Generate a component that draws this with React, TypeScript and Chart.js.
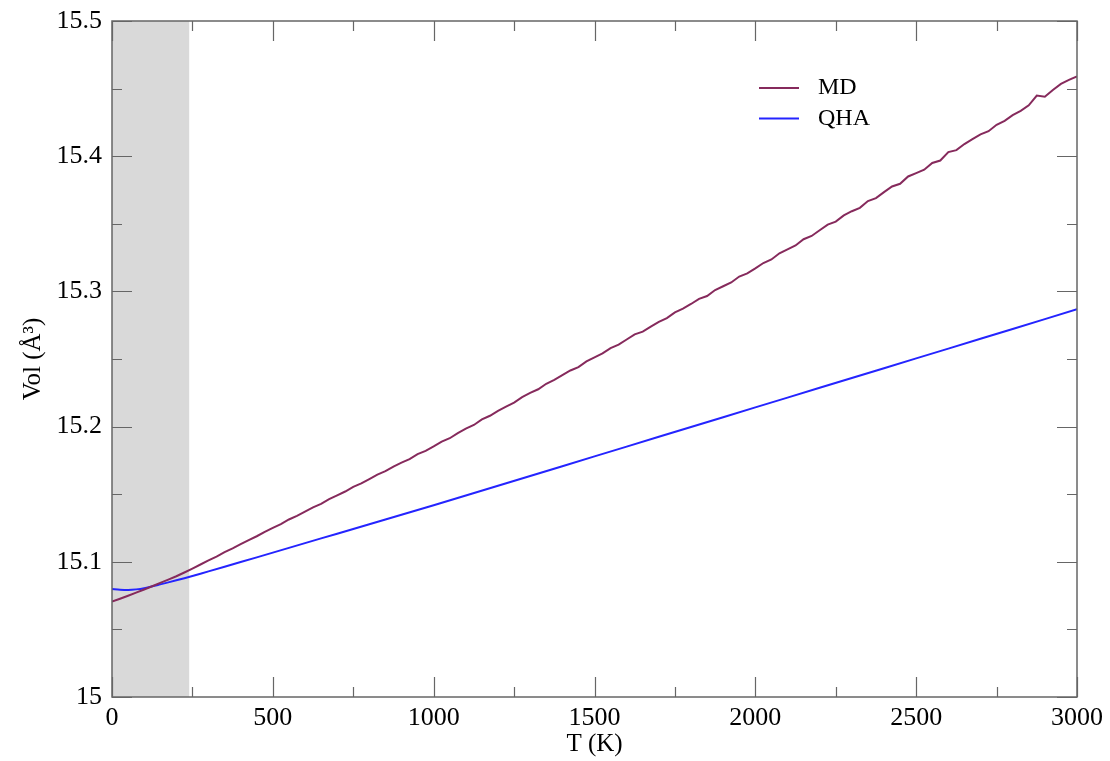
import React, { useEffect, useRef } from "react";
import { Chart, registerables } from "chart.js";

Chart.register(...registerables);

// ---- data ----
const MD_T: number[] = [
  0, 25, 50, 75, 100, 125, 150, 175, 200, 225, 250, 275, 300, 325, 350, 375, 400, 425, 450, 475,
  500, 525, 550, 575, 600, 625, 650, 675, 700, 725, 750, 775, 800, 825, 850, 875, 900, 925, 950, 975,
  1000, 1025, 1050, 1075, 1100, 1125, 1150, 1175, 1200, 1225, 1250, 1275, 1300, 1325, 1350, 1375, 1400, 1425, 1450, 1475,
  1500, 1525, 1550, 1575, 1600, 1625, 1650, 1675, 1700, 1725, 1750, 1775, 1800, 1825, 1850, 1875, 1900, 1925, 1950, 1975,
  2000, 2025, 2050, 2075, 2100, 2125, 2150, 2175, 2200, 2225, 2250, 2275, 2300, 2325, 2350, 2375, 2400, 2425, 2450, 2475,
  2500, 2525, 2550, 2575, 2600, 2625, 2650, 2675, 2700, 2725, 2750, 2775, 2800, 2825, 2850, 2875, 2900, 2925, 2950, 2975,
  3000,
];
const MD_VOL: number[] = [
  15.0705, 15.0727, 15.0749, 15.0772, 15.0795, 15.0819, 15.0844, 15.0868, 15.0893, 15.0921,
  15.0950, 15.0980, 15.1010, 15.1039, 15.1071, 15.1099, 15.1130, 15.1161, 15.1189, 15.1222,
  15.1251, 15.1279, 15.1313, 15.1340, 15.1371, 15.1403, 15.1429, 15.1463, 15.1492, 15.1520,
  15.1554, 15.1580, 15.1612, 15.1645, 15.1670, 15.1704, 15.1733, 15.1760, 15.1796, 15.1821,
  15.1853, 15.1889, 15.1914, 15.1952, 15.1985, 15.2012, 15.2053, 15.2080, 15.2117, 15.2148,
  15.2178, 15.2218, 15.2249, 15.2276, 15.2317, 15.2346, 15.2380, 15.2415, 15.2440, 15.2482,
  15.2512, 15.2541, 15.2580, 15.2606, 15.2644, 15.2682, 15.2702, 15.2740, 15.2775, 15.2803,
  15.2845, 15.2872, 15.2907, 15.2945, 15.2966, 15.3010, 15.3038, 15.3066, 15.3110, 15.3133,
  15.3170, 15.3210, 15.3236, 15.3282, 15.3311, 15.3340, 15.3386, 15.3410, 15.3452, 15.3494,
  15.3516, 15.3562, 15.3593, 15.3618, 15.3668, 15.3690, 15.3734, 15.3776, 15.3796, 15.3850,
  15.3875, 15.3900, 15.3950, 15.3968, 15.4030, 15.4045, 15.4090, 15.4126, 15.4161, 15.4185,
  15.4232, 15.4262, 15.4304, 15.4335, 15.4376, 15.4448, 15.4440, 15.4490, 15.4535, 15.4565,
  15.4590,
];

const QHA_T: number[] = [
  0, 25, 50, 75, 100, 150, 200, 250, 300, 400, 500, 600, 700, 800, 900, 1000,
  1200, 1400, 1600, 1800, 2000, 2200, 2400, 2600, 2800, 3000,
];
const QHA_VOL: number[] = [
  15.0799, 15.0794, 15.0792, 15.0796, 15.0805, 15.0833, 15.0863, 15.0895, 15.0929, 15.0998,
  15.1068, 15.1138, 15.1208, 15.1278, 15.1348, 15.1418, 15.1562, 15.1707, 15.1852, 15.1997,
  15.2142, 15.2287, 15.2432, 15.2577, 15.2722, 15.2868,
];

const SERIES_NAMES: string[] = ["MD", "QHA"];
const SERIES_COLORS: string[] = ["#862a5c", "#2424ff"];

const SHADE_RANGE: number[] = [0, 240];

const X_MAJOR: number[] = [0, 500, 1000, 1500, 2000, 2500, 3000];
const X_MINOR: number[] = [250, 750, 1250, 1750, 2250, 2750];
const Y_MAJOR: number[] = [15, 15.1, 15.2, 15.3, 15.4, 15.5];
const Y_MINOR: number[] = [15.05, 15.15, 15.25, 15.35, 15.45];

const FONT = '"Liberation Serif", "Times New Roman", serif';
const AXIS_COLOR = "#666666";

const framePlugin = {
  id: "xmgrFrame",
  beforeDatasetsDraw(chart: any) {
    const { ctx, chartArea: a, scales } = chart;
    const x = scales.x;
    const x1 = x.getPixelForValue(SHADE_RANGE[0]);
    const x2 = x.getPixelForValue(SHADE_RANGE[1]);
    ctx.save();
    ctx.fillStyle = "#d9d9d9";
    ctx.fillRect(x1, a.top, x2 - x1, a.bottom - a.top);
    ctx.restore();
  },
  afterDatasetsDraw(chart: any) {
    const { ctx, chartArea: a, scales } = chart;
    const x = scales.x;
    const y = scales.y;
    ctx.save();
    ctx.strokeStyle = AXIS_COLOR;
    ctx.lineWidth = 1.5;
    ctx.strokeRect(a.left, a.top, a.right - a.left, a.bottom - a.top);
    ctx.lineWidth = 1.2;
    const tick = (vals: number[], len: number) => {
      vals.forEach((v) => {
        const px = Math.round(x.getPixelForValue(v)) + 0.5;
        ctx.beginPath();
        ctx.moveTo(px, a.bottom);
        ctx.lineTo(px, a.bottom - len);
        ctx.moveTo(px, a.top);
        ctx.lineTo(px, a.top + len);
        ctx.stroke();
      });
    };
    const ytick = (vals: number[], len: number) => {
      vals.forEach((v) => {
        const py = Math.round(y.getPixelForValue(v)) + 0.5;
        ctx.beginPath();
        ctx.moveTo(a.left, py);
        ctx.lineTo(a.left + len, py);
        ctx.moveTo(a.right, py);
        ctx.lineTo(a.right - len, py);
        ctx.stroke();
      });
    };
    tick(X_MAJOR, 20);
    tick(X_MINOR, 10);
    ytick(Y_MAJOR, 20);
    ytick(Y_MINOR, 10);

    // legend
    const lx = a.left + 647;
    const ly = a.top + 67;
    SERIES_NAMES.forEach((name, i) => {
      const yy = ly + i * 30.5;
      ctx.strokeStyle = SERIES_COLORS[i];
      ctx.lineWidth = 2;
      ctx.beginPath();
      ctx.moveTo(lx, yy);
      ctx.lineTo(lx + 40, yy);
      ctx.stroke();
      ctx.fillStyle = "#000";
      ctx.font = `24px ${FONT}`;
      ctx.textBaseline = "middle";
      ctx.textAlign = "left";
      ctx.fillText(name, lx + 59, yy);
    });
    ctx.restore();
  },
};

export default function App() {
  const ref = useRef<HTMLCanvasElement | null>(null);

  useEffect(() => {
    if (!ref.current) return;
    const chart = new Chart(ref.current, {
      type: "line",
      data: {
        datasets: [
          {
            label: SERIES_NAMES[0],
            data: MD_T.map((t, i) => ({ x: t, y: MD_VOL[i] })),
            borderColor: SERIES_COLORS[0],
            borderWidth: 2,
            pointRadius: 0,
            tension: 0,
            fill: false,
          },
          {
            label: SERIES_NAMES[1],
            data: QHA_T.map((t, i) => ({ x: t, y: QHA_VOL[i] })),
            borderColor: SERIES_COLORS[1],
            borderWidth: 2,
            pointRadius: 0,
            tension: 0.3,
            fill: false,
          },
        ],
      },
      options: {
        animation: false,
        responsive: false,
        devicePixelRatio: 1,
        layout: { padding: { top: 21, right: 33, left: 0, bottom: 0 } },
        plugins: {
          legend: { display: false },
          tooltip: { enabled: false },
        },
        scales: {
          x: {
            type: "linear",
            min: 0,
            max: 3000,
            afterFit: (s: any) => {
              s.height = 64;
              s.paddingLeft = 0;
              s.paddingRight = 0;
            },
            afterBuildTicks: (s: any) => {
              s.ticks = X_MAJOR.map((v) => ({ value: v }));
            },
            grid: { display: false, drawTicks: false },
            border: { display: false },
            ticks: {
              padding: 6,
              color: "#000",
              font: { family: FONT, size: 26 },
              maxRotation: 0,
              autoSkip: false,
              callback: (v: any) => String(v),
            },
            title: {
              display: true,
              text: "T (K)",
              color: "#000",
              font: { family: FONT, size: 25 },
              padding: { top: 0, bottom: 2 },
            },
          },
          y: {
            type: "linear",
            min: 15,
            max: 15.5,
            afterFit: (s: any) => {
              s.width = 112;
              s.paddingTop = 0;
              s.paddingBottom = 0;
            },
            afterBuildTicks: (s: any) => {
              s.ticks = Y_MAJOR.map((v) => ({ value: v }));
            },
            grid: { display: false, drawTicks: false },
            border: { display: false },
            ticks: {
              padding: 10,
              color: "#000",
              font: { family: FONT, size: 26 },
              autoSkip: false,
              callback: (v: any) => String(Number(Number(v).toFixed(2))),
            },
            title: {
              display: true,
              text: "Vol (Å³)",
              color: "#000",
              font: { family: FONT, size: 25 },
              padding: { top: 18, bottom: 0 },
            },
          },
        },
      },
      plugins: [framePlugin],
    });
    return () => chart.destroy();
  }, []);

  return (
    <div style={{ position: "absolute", left: 0, top: 0, width: 1110, height: 761, background: "#fff" }}>
      <canvas ref={ref} width={1110} height={761} style={{ display: "block" }} />
    </div>
  );
}
